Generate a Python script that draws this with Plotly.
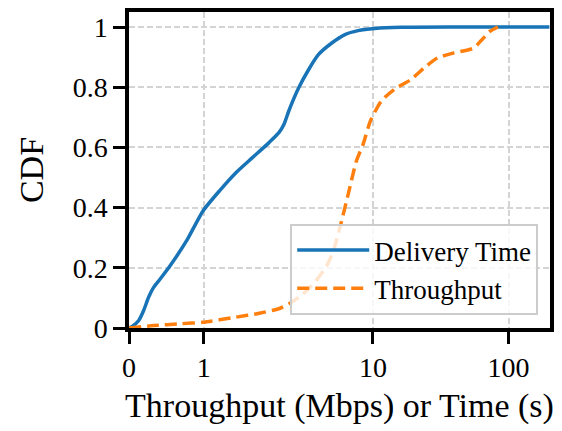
import numpy as np
import plotly.graph_objects as go

# ---- data ----
delivery_x = [0, 0.042, 0.13, 0.196, 0.262, 0.329, 0.417, 0.55, 0.771, 0.99, 1.24, 1.55, 1.94,
              2.43, 2.78, 2.98, 3.18, 3.64, 4.17, 4.77, 5.71, 6.83, 8.17, 10.3, 16.1, 40, 200]
delivery_y = [0, 0.005, 0.025, 0.058, 0.102, 0.135, 0.163, 0.207, 0.29, 0.389, 0.456, 0.516, 0.566,
              0.616, 0.649, 0.677, 0.721, 0.798, 0.859, 0.909, 0.947, 0.975, 0.988, 0.995, 0.999, 1.0, 1.0]

throughput_x = [0, 0.33, 0.68, 0.99, 1.55, 2.13, 2.78, 3.18, 3.64, 4.17, 4.77, 5.33, 5.84, 6.38,
                7.14, 7.98, 8.74, 9.66, 11.5, 14.4, 19.1, 23.8, 29.8, 39.5, 55.2, 63.6, 73.0, 83.4]
throughput_y = [0, 0.008, 0.014, 0.019, 0.036, 0.049, 0.064, 0.08, 0.102, 0.13, 0.168, 0.207, 0.257,
                0.334, 0.445, 0.555, 0.61, 0.688, 0.754, 0.793, 0.826, 0.864, 0.897, 0.914, 0.93,
                0.958, 0.986, 1.0]

x_ticks = [0, 1, 10, 100]
x_tick_labels = ["0", "1", "10", "100"]
y_ticks = [0, 0.2, 0.4, 0.6, 0.8, 1]
y_tick_labels = ["0", "0.2", "0.4", "0.6", "0.8", "1"]
x_max = 202

# ---- custom x scale (linear below 1, log above, as in the reference) ----
LIN, DEC1, DEC2 = 75.5, 171.0, 137.0


def xscale(v):
    v = np.asarray(v, dtype=float)
    out = np.where(v <= 1, v * LIN,
                   np.where(v <= 10, LIN + DEC1 * np.log10(np.maximum(v, 1)),
                            LIN + DEC1 + DEC2 * np.log10(np.maximum(v, 10) / 10)))
    return out


FONT = "Liberation Serif"
BLUE = "#1874b6"
ORANGE = "#ff7f0e"

fig = go.Figure()
fig.add_trace(go.Scatter(x=xscale(delivery_x), y=delivery_y, mode="lines",
                         name="Delivery Time",
                         line=dict(color=BLUE, width=3.5, shape="spline", smoothing=0.6)))
fig.add_trace(go.Scatter(x=xscale(throughput_x), y=throughput_y, mode="lines",
                         name="Throughput",
                         line=dict(color=ORANGE, width=3.5, dash="12px,6px", shape="spline",
                                   smoothing=0.6)))

axis_common = dict(showline=True, linecolor="black", linewidth=3.5, mirror=True,
                   ticks="outside", ticklen=12, tickwidth=3, tickcolor="black",
                   showgrid=True, gridcolor="#d4d4d4", gridwidth=1.5, griddash="6px,3px",
                   zeroline=False, tickfont=dict(family=FONT, size=28, color="black"))

fig.update_layout(
    width=562, height=431,
    margin=dict(l=129, r=8, t=11, b=103),
    paper_bgcolor="white", plot_bgcolor="white",
    font=dict(family=FONT, color="black"),
    showlegend=True,
    legend=dict(x=0.972, y=0.041, xanchor="right", yanchor="bottom",
                bgcolor="rgba(255,255,255,0.8)", bordercolor="#cccccc", borderwidth=2,
                font=dict(family=FONT, size=27, color="black"), itemwidth=72,
                tracegroupgap=0),
    xaxis=dict(range=[0, float(xscale(x_max))], tickmode="array",
               tickvals=list(xscale(x_ticks)), ticktext=x_tick_labels,
               title=dict(text="Throughput (Mbps) or Time (s)",
                          font=dict(family=FONT, size=34, color="black"), standoff=12),
               **axis_common),
    yaxis=dict(range=[0, 1.05], tickmode="array", tickvals=y_ticks, ticktext=y_tick_labels,
               title=dict(text="CDF", font=dict(family=FONT, size=34, color="black"), standoff=20),
               **axis_common),
)

fig.write_html("out.html")
